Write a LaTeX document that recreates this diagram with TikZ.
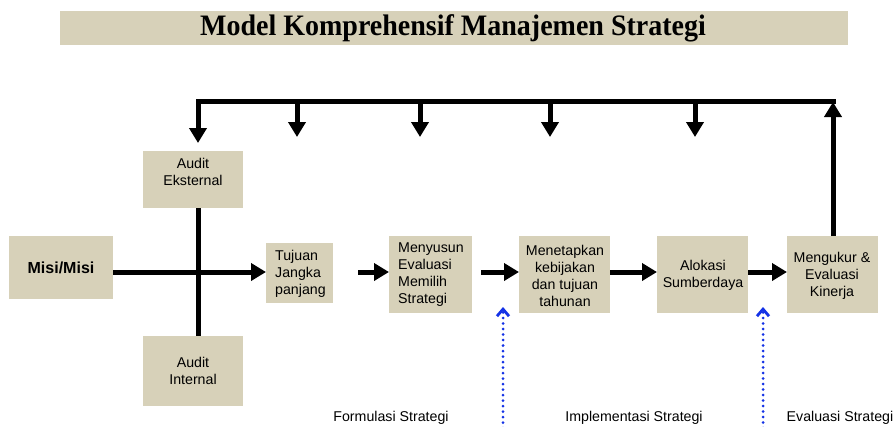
\documentclass[tikz,border=0pt]{standalone}
\usepackage{fontspec}
\setmainfont{Liberation Sans}
\newfontfamily\titlefont{Liberation Serif}
\usetikzlibrary{arrows.meta}
\definecolor{boxtan}{RGB}{215,209,185}
\definecolor{markblue}{RGB}{20,50,230}
\begin{document}
\begin{tikzpicture}[x=1pt,y=-1pt,
  stepbox/.style={fill=boxtan, draw=none, inner sep=0pt, anchor=north west},
  txt/.style={align=center, inner sep=0pt, font=\fontsize{14.2}{17}\selectfont},
  txtl/.style={align=left, inner sep=0pt, font=\fontsize{14.2}{17}\selectfont},
  flow/.style={line width=5pt, -{Triangle[length=15pt,width=17pt]}},
  bar/.style={line width=5pt},
  phase/.style={markblue, line width=3pt, line cap=round, dash pattern=on 0pt off 5.5pt,
    -{Straight Barb[length=7pt,width=12pt,line width=2.8pt]}}]
\useasboundingbox (0,0) rectangle (894,426);

% title bar
\node[stepbox, minimum width=788pt, minimum height=34pt] (titlebar) at (60,11) {};
\node[yscale=1.06, transform shape] (title) at (453,28) {\titlefont\bfseries\fontsize{28}{30}\selectfont Model Komprehensif Manajemen Strategi};

% boxes
\node[stepbox, minimum width=104pt, minimum height=63pt] (misi) at (9,236) {};
\node[txt, font=\fontsize{16}{18}\selectfont\bfseries] (misitxt) at (61,268) {Misi/Misi};

\node[stepbox, minimum width=100pt, minimum height=57pt] (ae) at (143,151) {};
\node[txt] (aetxt) at (193,172) {Audit\\Eksternal};

\node[stepbox, minimum width=100pt, minimum height=70pt] (ai) at (143,336) {};
\node[txt] (aitxt) at (193,371) {Audit\\Internal};

\node[stepbox, minimum width=67pt, minimum height=60pt] (tj) at (266,243) {};
\node[txtl, anchor=west] (tjtxt) at (275,274) {Tujuan\\Jangka\\panjang};

\node[stepbox, minimum width=83pt, minimum height=77pt] (me) at (389,236) {};
\node[txtl, anchor=west] (metxt) at (398,275) {Menyusun\\Evaluasi\\Memilih\\Strategi};

\node[stepbox, minimum width=91pt, minimum height=77pt] (mk) at (519,236) {};
\node[txt] (mktxt) at (565,275.5) {Menetapkan\\kebijakan\\dan tujuan\\tahunan};

\node[stepbox, minimum width=91pt, minimum height=77pt] (al) at (657,236) {};
\node[txt] (altxt) at (703,275.5) {Alokasi\\Sumberdaya};

\node[stepbox, minimum width=91pt, minimum height=77pt] (mg) at (787,236) {};
\node[txt] (mgtxt) at (832,275.5) {Mengukur \&\\Evaluasi\\Kinerja};

% main flow
\draw[flow] (misi.east |- 0,272) -- (tj.west |- 0,272);
\draw[bar] (ae.south -| 198,0) -- (ai.north -| 198,0);

\coordinate (s1) at (358,272);
\coordinate (s2) at (481,272);
\draw[flow] (s1) -- (me.west |- s1);
\draw[flow] (s2) -- (mk.west |- s2);
\draw[flow] (mk.east |- 0,272) -- (al.west |- 0,272);
\draw[flow] (al.east |- 0,272) -- (mg.west |- 0,272);

% feedback loop
\coordinate (tr) at (833,101);
\coordinate (tl) at (198,101);
\draw[flow] (mg.north -| tr) -- ([yshift=-1pt]tr);
\draw[flow, line join=miter] ([xshift=2.5pt]tr) -- (tl) -- (ae.north -| tl) [shorten >=8pt];
\foreach \xx/\nm in {297/a, 420/b, 550/c, 695/d}{
  \coordinate (d\nm) at (\xx,101);
  \coordinate (e\nm) at (\xx,137);
  \draw[flow] (d\nm) -- (e\nm);
}

% phase markers
\coordinate (p1) at (503,428);
\coordinate (p2) at (763,428);
\coordinate (q1) at (503,307);
\coordinate (q2) at (763,307);
\draw[phase] (p1) -- (q1);
\draw[phase] (p2) -- (q2);

\node[txt] (f1) at (391,418) {Formulasi Strategi};
\node[txt] (f2) at (634,418) {Implementasi Strategi};
\node[txt] (f3) at (840,418) {Evaluasi Strategi};
\end{tikzpicture}
\end{document}
